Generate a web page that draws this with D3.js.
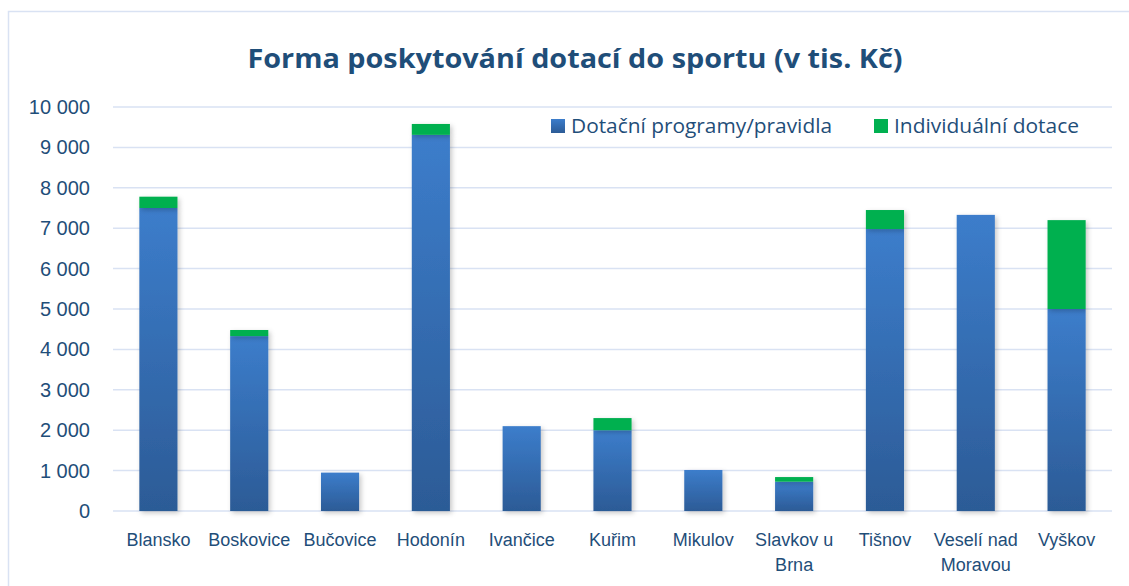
<!DOCTYPE html>
<html>
<head>
<meta charset="utf-8">
<script src="https://cdn.jsdelivr.net/npm/d3@7"></script>
<style>
  body { margin: 0; background: #fff; }
  svg { display: block; font-family: "Open Sans", "Noto Sans", sans-serif; }
</style>
</head>
<body>
<div id="chart"></div>
<script>
// Data (v tis. Kč)
const categories = ["Blansko", "Boskovice", "Bučovice", "Hodonín", "Ivančice", "Kuřim",
    "Mikulov", "Slavkov u Brna", "Tišnov", "Veselí nad Moravou", "Vyškov"];
const programy = [7500, 4330, 950, 9310, 2100, 2000, 1015, 725, 6980, 7330, 5000];
const individualni = [280, 150, 0, 270, 0, 300, 0, 115, 470, 0, 2200];
const seriesNames = ["Dotační programy/pravidla", "Individuální dotace"];
const yTicks = [0, 1000, 2000, 3000, 4000, 5000, 6000, 7000, 8000, 9000, 10000];

const W = 1129, H = 586;
const plot = {left: 113, right: 1112, top: 107, bottom: 511};
const textColor = "#1F4E79";
const gridColor = "#D9E2F3";
const green = "#00B050";

const svg = d3.select("#chart").append("svg")
    .attr("width", W)
    .attr("height", H);

const defs = svg.append("defs");
const grad = defs.append("linearGradient")
    .attr("id", "blueGrad")
    .attr("x1", 0).attr("y1", 0).attr("x2", 0).attr("y2", 1);
grad.append("stop").attr("offset", "0%").attr("stop-color", "#3C7DCB");
grad.append("stop").attr("offset", "100%").attr("stop-color", "#2C5B96");

const shadow = defs.append("filter").attr("id", "shadow")
    .attr("x", "-30%").attr("y", "-10%").attr("width", "160%").attr("height", "130%");
shadow.append("feDropShadow")
    .attr("dx", 2).attr("dy", 2).attr("stdDeviation", 2.5)
    .attr("flood-color", "#000").attr("flood-opacity", 0.22);

// Chart frame
svg.append("rect")
    .attr("x", 8.5).attr("y", 11.5)
    .attr("width", W + 20).attr("height", H + 20)
    .attr("fill", "#fff")
    .attr("stroke", gridColor)
    .attr("stroke-width", 1.5);

// Title
svg.append("text")
    .attr("x", 575)
    .attr("y", 68)
    .attr("text-anchor", "middle")
    .attr("fill", textColor)
    .style("font-size", "27px")
    .style("font-weight", "bold")
    .attr("textLength", 655)
    .attr("lengthAdjust", "spacingAndGlyphs")
    .text("Forma poskytování dotací do sportu (v tis. Kč)");

// Scales
const x = d3.scaleBand()
    .domain(categories)
    .range([plot.left, plot.right])
    .paddingInner(0.58)
    .paddingOuter(0.29);

const y = d3.scaleLinear()
    .domain([0, 10000])
    .range([plot.bottom, plot.top]);

const fmt = v => d3.format(",")(v).replace(/,/g, " ");

// Gridlines
svg.append("g")
    .selectAll("line")
    .data(yTicks)
    .join("line")
    .attr("x1", plot.left)
    .attr("x2", plot.right)
    .attr("y1", d => y(d))
    .attr("y2", d => y(d))
    .attr("stroke", gridColor)
    .attr("stroke-width", 1.5);

// Y axis
const yAxis = svg.append("g")
    .attr("transform", `translate(${plot.left},0)`)
    .call(d3.axisLeft(y).tickValues(yTicks).tickFormat(fmt).tickSize(0).tickPadding(23));
yAxis.select(".domain").remove();
yAxis.selectAll("text")
    .attr("fill", textColor)
    .style("font-size", "20px");

// X axis
const xAxis = svg.append("g")
    .attr("transform", `translate(0,${plot.bottom})`)
    .call(d3.axisBottom(x).tickSize(0).tickPadding(0));
xAxis.select(".domain").remove();
xAxis.selectAll("text")
    .attr("fill", textColor)
    .style("font-size", "18px")
    .attr("y", 0)
    .attr("dy", null)
    .each(function(d) {
        const t = d3.select(this);
        t.text(null);
        const words = d.split(" ");
        const lines = [];
        let cur = "";
        words.forEach(w => {
            const test = cur ? cur + " " + w : w;
            t.text(test);
            if (cur && this.getComputedTextLength() > x.step() - 2) {
                lines.push(cur);
                cur = w;
            } else {
                cur = test;
            }
        });
        lines.push(cur);
        t.text(null);
        lines.forEach((line, i) => {
            t.append("tspan")
                .attr("x", 0)
                .attr("y", 35 + i * 25)
                .text(line);
        });
    });

// Stacked bars
const stackData = categories.map((c, i) => ({cat: c, programy: programy[i], individualni: individualni[i]}));
const series = d3.stack().keys(["programy", "individualni"])(stackData);

const barG = svg.append("g");
barG.selectAll("g")
    .data(series)
    .join("g")
    .attr("fill", (s, i) => i === 0 ? "url(#blueGrad)" : green)
    .attr("filter", "url(#shadow)")
    .selectAll("rect")
    .data(s => s.filter(d => d[1] > d[0]))
    .join("rect")
    .attr("x", d => x(d.data.cat))
    .attr("width", x.bandwidth())
    .attr("y", d => y(d[1]))
    .attr("height", d => y(d[0]) - y(d[1]));

// Legend
const legend = svg.append("g");
const legendItems = [
    {name: seriesNames[0], fill: "url(#blueGrad)", x: 551, w: 261},
    {name: seriesNames[1], fill: green, x: 874, w: 185}
];
legendItems.forEach(it => {
    legend.append("rect")
        .attr("x", it.x).attr("y", 119)
        .attr("width", 14).attr("height", 14)
        .attr("fill", it.fill);
    legend.append("text")
        .attr("x", it.x + 20)
        .attr("y", 133)
        .attr("fill", textColor)
        .style("font-size", "19.5px")
        .attr("textLength", it.w)
        .attr("lengthAdjust", "spacingAndGlyphs")
        .text(it.name);
});
</script>
</body>
</html>
